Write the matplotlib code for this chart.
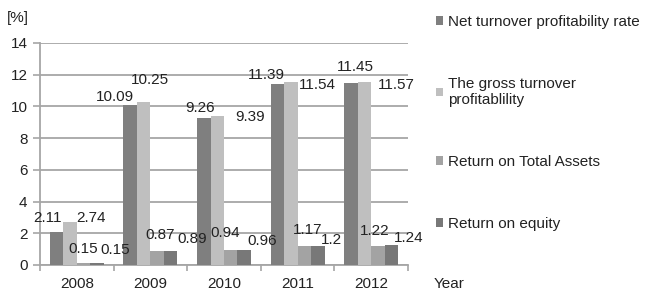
import numpy as np
import matplotlib
matplotlib.use("Agg")
import matplotlib.pyplot as plt
from matplotlib.patches import Patch

# --- data ---
years = ["2008", "2009", "2010", "2011", "2012"]
series_names = [
    "Net turnover profitability rate",
    "The gross turnover\nprofitablility",
    "Return on Total Assets",
    "Return on equity",
]
net_turnover = [2.11, 10.09, 9.26, 11.39, 11.45]
gross_turnover = [2.74, 10.25, 9.39, 11.54, 11.57]
return_assets = [0.15, 0.87, 0.94, 1.17, 1.22]
return_equity = [0.15, 0.89, 0.96, 1.2, 1.24]
value_labels = [
    ["2.11", "10.09", "9.26", "11.39", "11.45"],
    ["2.74", "10.25", "9.39", "11.54", "11.57"],
    ["0.15", "0.87", "0.94", "1.17", "1.22"],
    ["0.15", "0.89", "0.96", "1.2", "1.24"],
]

# --- style ---
colors = ["#7f7f7f", "#bfbfbf", "#a3a3a3", "#787878"]
# label offsets (pixels) from the top-centre of each bar, Excel-like placement
label_offsets = [
    [(-9, 14), (-15, 8), (-4, 10), (-11, 9), (4, 16)],
    [(21, 4), (6, 22), (33, -1), (27, -3), (32, -3)],
    [(0, 14), (3, 16), (-6, 17), (3, 16), (-3, 15)],
    [(18, 13), (22, 12), (18, 9), (14, 6), (17, 7)],
]

FS = 11
plt.rcParams["font.family"] = ["Liberation Sans", "DejaVu Sans"]
text_color = "#222222"
grid_color = "#a6a6a6"

fig = plt.figure(figsize=(6.68, 2.92), dpi=100)
ax = fig.add_axes([40 / 668, 1 - 265 / 292, 368 / 668, 222 / 292])

all_series = [net_turnover, gross_turnover, return_assets, return_equity]
x = np.arange(len(years))
width = 0.183
for k, vals in enumerate(all_series):
    pos = x + (k - 1.5) * width
    ax.bar(pos, vals, width=width, color=colors[k], zorder=3)
    for i, v in enumerate(vals):
        dx, dy = label_offsets[k][i]
        ax.annotate(value_labels[k][i], xy=(pos[i], v), xytext=(dx, dy),
                    textcoords="offset pixels", ha="center", va="center",
                    fontsize=FS, color=text_color, zorder=4)

ax.set_xlim(-0.5, len(years) - 0.5)
ax.set_ylim(0, 14)
ax.set_yticks(np.arange(0, 15, 2))
ax.yaxis.grid(True, color=grid_color, linewidth=1.3, zorder=0)
ax.set_xticks(x)
ax.set_xticklabels(years)
ax.set_xticks(np.arange(-0.5, len(years), 1), minor=True)
ax.tick_params(axis="x", which="major", length=0, pad=8.5, labelsize=FS, labelcolor=text_color)
ax.tick_params(axis="x", which="minor", length=4, color=grid_color, width=1.2)
ax.tick_params(axis="y", length=5, color=grid_color, width=1.2, labelsize=FS,
               labelcolor=text_color, pad=4)
for side in ["top", "right"]:
    ax.spines[side].set_visible(False)
for side in ["left", "bottom"]:
    ax.spines[side].set_color(grid_color)
    ax.spines[side].set_linewidth(1.3)

handles = [Patch(facecolor=c, edgecolor="none") for c in colors]
fig.legend(handles, series_names, loc="upper left",
           bbox_to_anchor=(428 / 668, 1 - 7 / 292), frameon=False,
           fontsize=FS, labelspacing=3.15, handlelength=0.5, handleheight=0.5,
           handletextpad=0.3, borderpad=0, labelcolor=text_color)

fig.text(7 / 668, 1 - 18 / 292, "[%]", fontsize=FS, color=text_color, va="center")
fig.text(434 / 668, 1 - 284 / 292, "Year", fontsize=FS, color=text_color, va="center")

fig.savefig("out.png", dpi=100)
